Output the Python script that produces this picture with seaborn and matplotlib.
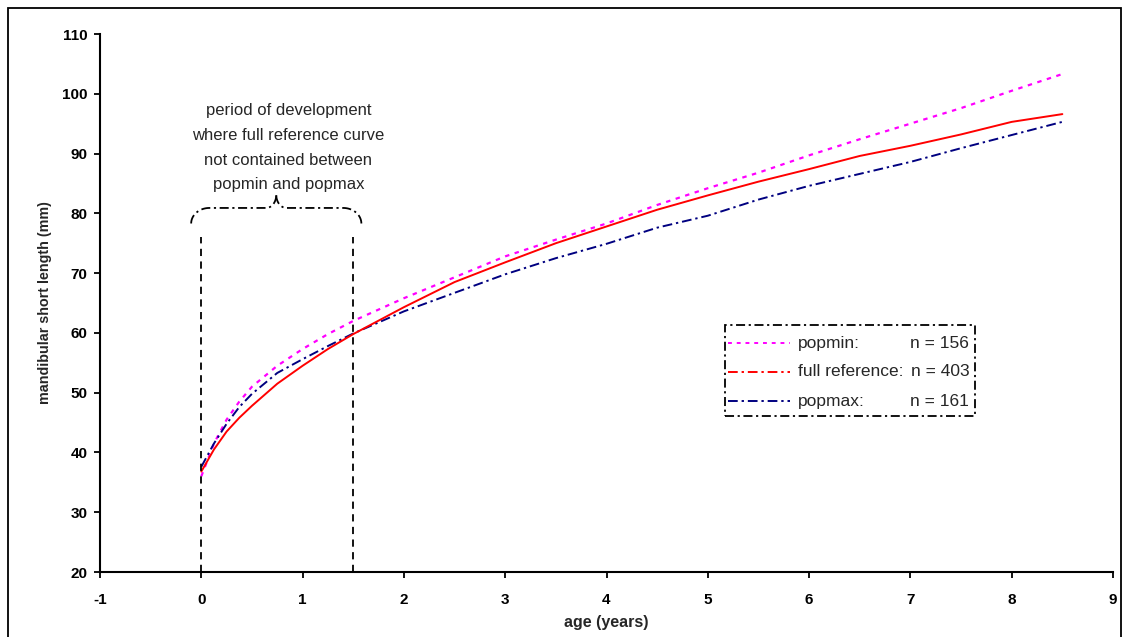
import matplotlib
matplotlib.use("Agg")
import matplotlib.pyplot as plt
import seaborn as sns
import numpy as np
import pandas as pd
from matplotlib.patches import Rectangle

ages = [0, 0.125, 0.25, 0.375, 0.5, 0.75, 1, 1.25, 1.5, 2, 2.5, 3, 3.5, 4, 4.5, 5, 5.5, 6, 6.5, 7, 7.5, 8, 8.5]
full_ref = [36.8, 40.5, 43.5, 45.8, 47.8, 51.5, 54.5, 57.3, 59.8, 64.3, 68.5, 71.8, 75.0, 77.8, 80.6, 83.0, 85.3, 87.4, 89.6, 91.3, 93.2, 95.3, 96.6]
popmin = [36.0, 41.5, 45.5, 48.5, 51.0, 54.5, 57.3, 59.8, 62.0, 65.8, 69.3, 72.8, 75.6, 78.3, 81.4, 84.2, 86.8, 89.7, 92.4, 95.0, 97.6, 100.5, 103.3]
popmax = [37.6, 41.5, 44.8, 47.6, 49.8, 53.3, 55.6, 57.8, 59.9, 63.6, 66.7, 69.8, 72.5, 74.9, 77.6, 79.6, 82.3, 84.6, 86.6, 88.6, 90.9, 93.1, 95.3]
legend_labels = ["popmin:", "full reference:", "popmax:"]
legend_counts = ["n = 156", "n = 403", "n = 161"]
note = "period of development\nwhere full reference curve\nnot contained between\npopmin and popmax"
xticks = list(range(-1, 10))
yticks = list(range(20, 111, 10))

sns.set_style("ticks")
plt.rcParams['font.family'] = ['Liberation Sans', 'DejaVu Sans']
plt.rcParams['axes.unicode_minus'] = False

fig = plt.figure(figsize=(11.29, 6.37), dpi=100)
ax = fig.add_axes([100/1129, 1-572/637, (1113-100)/1129, (572-34)/637])

c_min, c_ref, c_max = "#FF00FF", "#FF0000", "#000080"
ls_min = (0, (2, 2.5))
ls_max = (0, (5, 2, 1.2, 2))

df = pd.DataFrame({"age": ages, "popmin": popmin, "full": full_ref, "popmax": popmax})
sns.lineplot(data=df, x="age", y="popmin", ax=ax, color=c_min, lw=1.6, linestyle=ls_min)
sns.lineplot(data=df, x="age", y="popmax", ax=ax, color=c_max, lw=1.4, linestyle=ls_max)
sns.lineplot(data=df, x="age", y="full", ax=ax, color=c_ref, lw=1.4)

ax.set_xlim(-1, 9)
ax.set_ylim(20, 110)
ax.set_xticks(xticks)
ax.set_yticks(yticks)
ax.tick_params(axis="x", direction="out", length=4, width=1.3, labelsize=11, colors="black", pad=11)
ax.tick_params(axis="y", direction="out", length=4, width=1.3, labelsize=11, colors="black", pad=5)
for lab in ax.get_xticklabels() + ax.get_yticklabels():
    lab.set_fontweight("bold")
for s in ["left", "bottom"]:
    ax.spines[s].set_linewidth(1.5)
    ax.spines[s].set_color("black")
sns.despine(ax=ax)
ax.set_xlabel("age (years)", fontsize=11.5, fontweight="bold", labelpad=6)
ax.set_ylabel("mandibular short length (mm)", fontsize=10.3, fontweight="bold", labelpad=7)

# vertical dashed lines
for xv in [0, 1.5]:
    ax.plot([xv, xv], [20, 76], color="black", lw=1.3, linestyle=(0, (4, 3)))

# curly brace
def brace(x0, x1, yb, rise, tip):
    xm = (x0 + x1) / 2
    t = np.linspace(0, 1, 50)
    r = 0.18
    r2 = 0.1
    xl = np.concatenate([x0 + r * (1 - np.cos(t * np.pi / 2)), np.linspace(x0 + r, xm - r2, 20),
                         xm - r2 + r2 * np.sin(t * np.pi / 2)])
    yl = np.concatenate([yb + rise * np.sin(t * np.pi / 2), np.full(20, yb + rise),
                         yb + rise + tip * (1 - np.cos(t * np.pi / 2))])
    xr = 2 * xm - xl
    return xl, yl, xr, yl

xl, yl, xr, yr = brace(-0.1, 1.58, 78.3, 2.6, 2.2)
ax.plot(xl, yl, color="black", lw=1.3, linestyle=(0, (5, 2, 1.2, 2)))
ax.plot(xr, yr, color="black", lw=1.3, linestyle=(0, (5, 2, 1.2, 2)))

ax.text(0.86, 98.4, note, ha="center", va="top", fontsize=12, linespacing=1.8)

# legend box
ax.add_patch(Rectangle((5.17, 46.1), 7.64 - 5.17, 61.3 - 46.1, fill=True, facecolor="white",
                       edgecolor="black", lw=1.3, linestyle=(0, (5, 2, 1.2, 2)), zorder=5))
ys = [58.3, 53.5, 48.6]
styles = [(c_min, ls_min), (c_ref, ls_max), (c_max, ls_max)]
for yv, (c, ls), lab, n in zip(ys, styles, legend_labels, legend_counts):
    ax.plot([5.20, 5.81], [yv, yv], color=c, lw=1.4, linestyle=ls, zorder=6)
    ax.text(5.89, yv, lab, ha="left", va="center", fontsize=12.5, zorder=6)
    ax.text(7.58, yv, n, ha="right", va="center", fontsize=12.5, zorder=6)

# outer border
fig.add_artist(Rectangle((8/1129, -0.01), (1121-8)/1129, (637-8)/637 + 0.01, transform=fig.transFigure,
                         fill=False, edgecolor="black", lw=1.3))

fig.savefig("out.png", dpi=100)
